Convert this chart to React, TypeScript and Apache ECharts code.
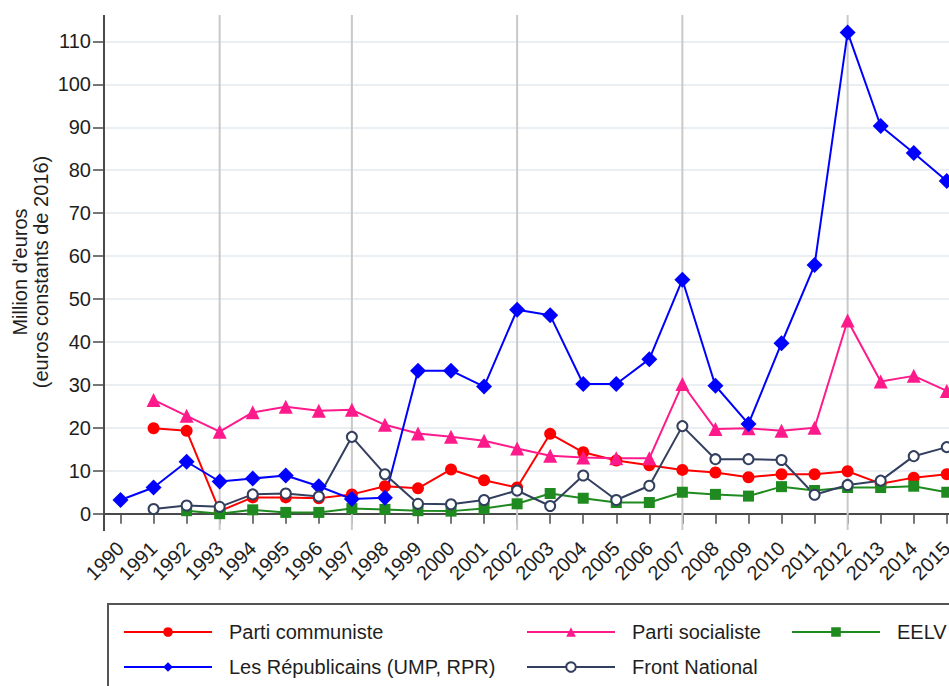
import React, { useEffect, useRef } from "react";
import * as echarts from "echarts";

const years = ["1990","1991","1992","1993","1994","1995","1996","1997","1998","1999","2000","2001","2002","2003","2004","2005","2006","2007","2008","2009","2010","2011","2012","2013","2014","2015"];
const electionYears = ["1993", "1997", "2002", "2007", "2012"];

const partiCommuniste = [null, 19.9, 19.3, 0.6, 3.8, 3.8, 3.6, 4.5, 6.4, 5.9, 10.3, 7.8, 6.1, 18.6, 14.3, 12.4, 11.3, 10.2, 9.6, 8.5, 9.2, 9.2, 9.9, 7.0, 8.4, 9.2];
const partiSocialiste = [null, 26.5, 22.8, 19.1, 23.6, 24.9, 24.0, 24.2, 20.7, 18.7, 17.9, 17.0, 15.2, 13.5, 13.1, 12.9, 12.9, 30.2, 19.7, 19.9, 19.3, 20.0, 45.0, 30.8, 32.1, 28.6];
const eelv = [null, null, 0.7, 0.0, 0.9, 0.3, 0.3, 1.2, 1.0, 0.7, 0.6, 1.2, 2.3, 4.7, 3.6, 2.6, 2.6, 5.0, 4.5, 4.1, 6.3, 5.4, 6.1, 6.1, 6.4, 5.0];
const republicains = [3.2, 6.1, 12.1, 7.5, 8.2, 8.9, 6.4, 3.4, 3.7, 33.3, 33.3, 29.6, 47.5, 46.2, 30.2, 30.2, 36.0, 54.5, 29.8, 20.9, 39.7, 57.9, 112.1, 90.3, 84.0, 77.5];
const frontNational = [null, 1.1, 1.9, 1.6, 4.5, 4.7, 4.0, 17.9, 9.2, 2.3, 2.2, 3.2, 5.4, 1.8, 8.9, 3.2, 6.5, 20.4, 12.7, 12.7, 12.5, 4.4, 6.7, 7.7, 13.4, 15.5];

const FONT = "'Liberation Sans', Arial, sans-serif";
const TEXT = "#1e1e1e";
const AXIS = "#4a4a4a";

const C_PC = "#ff0000";
const C_PS = "#ff1a8c";
const C_EELV = "#1f8a1f";
const C_LR = "#0000ff";
const C_FN = "#333f5e";

function mkSeries(name: string, data: (number | null)[], color: string, symbol: string, size: number) {
  return {
    name,
    type: "line",
    data,
    clip: false,
    symbol,
    symbolSize: size,
    connectNulls: false,
    lineStyle: { color, width: 2 },
    itemStyle: { color },
    emphasis: { disabled: true },
    z: 3,
  };
}

function mkLegend(name: string, left: number, top: number) {
  return {
    data: [name],
    left,
    top,
    padding: 0,
    itemWidth: 88,
    itemHeight: 12,
    selectedMode: false,
    textStyle: { fontSize: 20, color: TEXT, fontFamily: FONT, padding: [0, 0, 0, 12] },
  };
}

export default function App() {
  const ref = useRef<HTMLDivElement>(null);
  useEffect(() => {
    if (!ref.current) return;
    const chart = echarts.init(ref.current, null, { renderer: "svg" });
    const option: any = {
      animation: false,
      backgroundColor: "#ffffff",
      textStyle: { fontFamily: FONT },
      grid: { left: 104, top: 41.4, right: 16.7, bottom: 172.3, containLabel: false },
      xAxis: {
        type: "category",
        data: years,
        boundaryGap: true,
        offset: 16.3,
        axisLine: { show: true, lineStyle: { color: AXIS, width: 2 } },
        axisTick: { show: true, alignWithLabel: true, length: 10, lineStyle: { color: AXIS, width: 1.5 } },
        axisLabel: { rotate: 45, fontSize: 20, color: TEXT, margin: 15, interval: 0, fontFamily: FONT },
        splitLine: { show: false },
      },
      yAxis: {
        type: "value",
        min: 0,
        max: 110,
        interval: 10,
        axisLine: { show: false },
        axisTick: { show: true, length: 11, lineStyle: { color: AXIS, width: 1.5 } },
        axisLabel: { fontSize: 20, color: TEXT, margin: 13, fontFamily: FONT },
        splitLine: { show: true, lineStyle: { color: "#e9eff2", width: 2 } },
      },
      legend: [
        mkLegend("Parti communiste", 123, 622),
        mkLegend("Parti socialiste", 526, 622),
        mkLegend("EELV", 791, 622),
        mkLegend("Les Républicains (UMP, RPR)", 123, 657),
        mkLegend("Front National", 526, 657),
      ],
      series: [
        mkSeries("Parti communiste", partiCommuniste, C_PC, "circle", 12),
        mkSeries("Parti socialiste", partiSocialiste, C_PS, "triangle", 14),
        mkSeries("EELV", eelv, C_EELV, "rect", 11),
        mkSeries("Les Républicains (UMP, RPR)", republicains, C_LR, "diamond", 16),
        {
          ...mkSeries("Front National", frontNational, C_FN, "emptyCircle", 10),
          itemStyle: { color: C_FN, borderColor: C_FN, borderWidth: 2 },
        },
      ],
    };
    chart.setOption(option);

    const top = 15;
    const axisY = 530;
    const spineX = 104;
    const graphics: any[] = [];
    electionYears.forEach((y) => {
      const px = chart.convertToPixel({ xAxisIndex: 0 }, y) as number;
      graphics.push({
        type: "line",
        z: 1,
        shape: { x1: px, y1: top, x2: px, y2: axisY },
        style: { stroke: "#c9c9c9", lineWidth: 2 },
      });
    });
    graphics.push({
      type: "line",
      z: 5,
      shape: { x1: spineX, y1: top, x2: spineX, y2: axisY + 1 },
      style: { stroke: AXIS, lineWidth: 2 },
    });
    graphics.push({
      type: "text",
      z: 5,
      x: 30,
      y: 272,
      rotation: Math.PI / 2,
      style: {
        text: "Million d'euros\n(euros constants de 2016)",
        fontSize: 20,
        lineHeight: 21,
        fontFamily: FONT,
        fill: TEXT,
        align: "center",
        verticalAlign: "middle",
      },
    });
    graphics.push({
      type: "rect",
      z: 5,
      shape: { x: 108, y: 604, width: 900, height: 200 },
      style: { fill: "none", stroke: "#555555", lineWidth: 2 },
    });
    chart.setOption({ graphic: graphics });
    return () => chart.dispose();
  }, []);

  return (
    <div style={{ position: "fixed", left: 0, top: 0, width: 949, height: 686, overflow: "hidden", background: "#fff" }}>
      <div ref={ref} style={{ position: "absolute", left: 0, top: 0, width: 980, height: 686 }} />
    </div>
  );
}
